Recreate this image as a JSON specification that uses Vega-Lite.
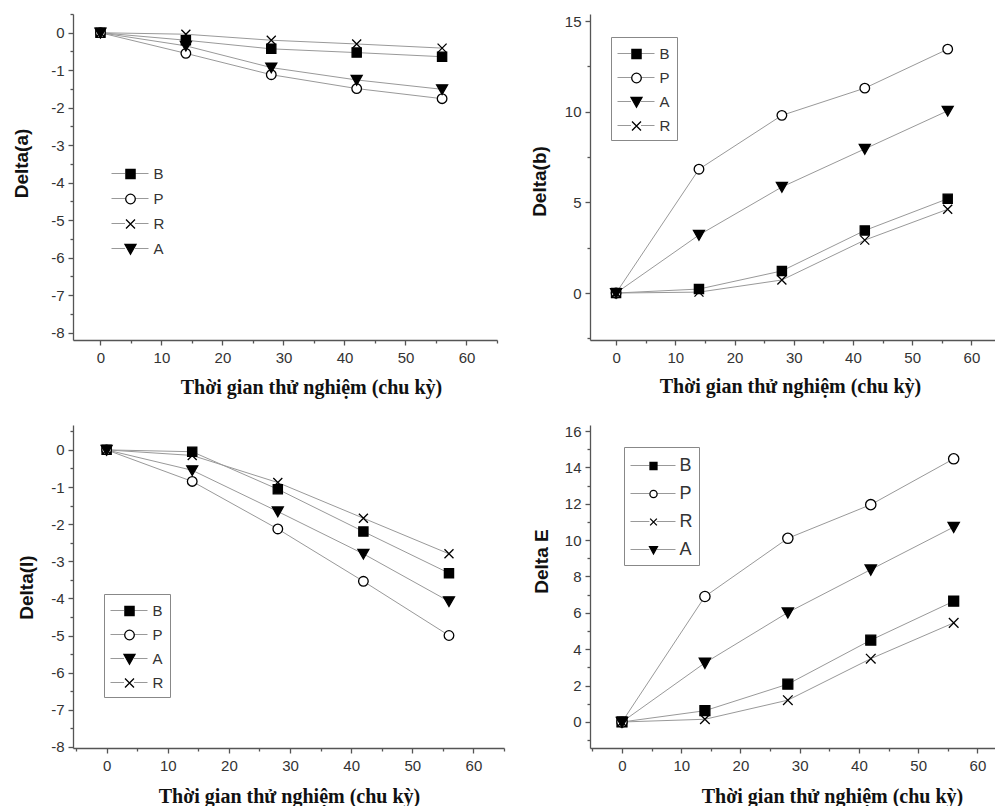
{
  "$schema": "https://vega.github.io/schema/vega-lite/v6.json",
  "background": "white",
  "padding": {"left": 12, "top": 13, "right": 0, "bottom": 0},
  "config": {
    "view": {"stroke": null},
    "axis": {"domainColor": "#555", "domainWidth": 1.3, "tickColor": "#555", "tickWidth": 1.3, "tickSize": 5, "labelColor": "#333", "labelFont": "Liberation Sans", "labelFontSize": 15, "labelPadding": 4, "grid": false, "titleFont": "Liberation Sans", "titleFontWeight": "bold", "titleColor": "#111", "titleBaseline": "alphabetic"},
    "axisX": {"titleFont": "Liberation Serif", "titleFontSize": 20, "labelPadding": 5},
    "axisY": {"titleFontSize": 19},
    "legend": {"labelFont": "Liberation Sans", "labelFontSize": 15, "labelColor": "#333", "title": null, "orient": "none"}
  },
  "datasets": {
    "a": [
      {"t": 0, "s": "B", "k": "B", "v": 0}, {"t": 14, "s": "B", "k": "B", "v": -0.2}, {"t": 28, "s": "B", "k": "B", "v": -0.43}, {"t": 42, "s": "B", "k": "B", "v": -0.53}, {"t": 56, "s": "B", "k": "B", "v": -0.64},
      {"t": 0, "s": "P", "k": "P", "v": 0}, {"t": 14, "s": "P", "k": "P", "v": -0.55}, {"t": 28, "s": "P", "k": "P", "v": -1.12}, {"t": 42, "s": "P", "k": "P", "v": -1.49}, {"t": 56, "s": "P", "k": "P", "v": -1.76},
      {"t": 0, "s": "R", "k": "R", "v": 0}, {"t": 14, "s": "R", "k": "R", "v": -0.04}, {"t": 28, "s": "R", "k": "R", "v": -0.2}, {"t": 42, "s": "R", "k": "R", "v": -0.3}, {"t": 56, "s": "R", "k": "R", "v": -0.41},
      {"t": 0, "s": "A", "k": "A", "v": 0}, {"t": 14, "s": "A", "k": "A", "v": -0.35}, {"t": 28, "s": "A", "k": "A", "v": -0.93}, {"t": 42, "s": "A", "k": "A", "v": -1.26}, {"t": 56, "s": "A", "k": "A", "v": -1.51}
    ],
    "b": [
      {"t": 0, "s": "B", "k": "B", "v": 0}, {"t": 14, "s": "B", "k": "B", "v": 0.22}, {"t": 28, "s": "B", "k": "B", "v": 1.22}, {"t": 42, "s": "B", "k": "B", "v": 3.45}, {"t": 56, "s": "B", "k": "B", "v": 5.2},
      {"t": 0, "s": "P", "k": "P", "v": 0}, {"t": 14, "s": "P", "k": "P", "v": 6.83}, {"t": 28, "s": "P", "k": "P", "v": 9.8}, {"t": 42, "s": "P", "k": "P", "v": 11.3}, {"t": 56, "s": "P", "k": "P", "v": 13.45},
      {"t": 0, "s": "A", "k": "A", "v": 0}, {"t": 14, "s": "A", "k": "A", "v": 3.2}, {"t": 28, "s": "A", "k": "A", "v": 5.85}, {"t": 42, "s": "A", "k": "A", "v": 7.95}, {"t": 56, "s": "A", "k": "A", "v": 10.05},
      {"t": 0, "s": "R", "k": "R", "v": 0}, {"t": 14, "s": "R", "k": "R", "v": 0.05}, {"t": 28, "s": "R", "k": "R", "v": 0.72}, {"t": 42, "s": "R", "k": "R", "v": 2.92}, {"t": 56, "s": "R", "k": "R", "v": 4.62}
    ],
    "l": [
      {"t": 0, "s": "B", "k": "B", "v": 0}, {"t": 14, "s": "B", "k": "B", "v": -0.05}, {"t": 28, "s": "B", "k": "B", "v": -1.06}, {"t": 42, "s": "B", "k": "B", "v": -2.2}, {"t": 56, "s": "B", "k": "B", "v": -3.32},
      {"t": 0, "s": "P", "k": "P", "v": 0}, {"t": 14, "s": "P", "k": "P", "v": -0.85}, {"t": 28, "s": "P", "k": "P", "v": -2.13}, {"t": 42, "s": "P", "k": "P", "v": -3.54}, {"t": 56, "s": "P", "k": "P", "v": -5.0},
      {"t": 0, "s": "A", "k": "A", "v": 0}, {"t": 14, "s": "A", "k": "A", "v": -0.55}, {"t": 28, "s": "A", "k": "A", "v": -1.66}, {"t": 42, "s": "A", "k": "A", "v": -2.8}, {"t": 56, "s": "A", "k": "A", "v": -4.08},
      {"t": 0, "s": "R", "k": "R", "v": 0}, {"t": 14, "s": "R", "k": "R", "v": -0.15}, {"t": 28, "s": "R", "k": "R", "v": -0.88}, {"t": 42, "s": "R", "k": "R", "v": -1.84}, {"t": 56, "s": "R", "k": "R", "v": -2.8}
    ],
    "E": [
      {"t": 0, "s": "B", "k": "B", "v": 0}, {"t": 14, "s": "B", "k": "B", "v": 0.62}, {"t": 28, "s": "B", "k": "B", "v": 2.08}, {"t": 42, "s": "B", "k": "B", "v": 4.5}, {"t": 56, "s": "B", "k": "B", "v": 6.64},
      {"t": 0, "s": "P", "k": "P", "v": 0}, {"t": 14, "s": "P", "k": "P", "v": 6.9}, {"t": 28, "s": "P", "k": "P", "v": 10.1}, {"t": 42, "s": "P", "k": "P", "v": 11.95}, {"t": 56, "s": "P", "k": "P", "v": 14.47},
      {"t": 0, "s": "R", "k": "R", "v": 0}, {"t": 14, "s": "R", "k": "R", "v": 0.15}, {"t": 28, "s": "R", "k": "R", "v": 1.2}, {"t": 42, "s": "R", "k": "R", "v": 3.48}, {"t": 56, "s": "R", "k": "R", "v": 5.45},
      {"t": 0, "s": "A", "k": "A", "v": 0}, {"t": 14, "s": "A", "k": "A", "v": 3.25}, {"t": 28, "s": "A", "k": "A", "v": 6.02}, {"t": 42, "s": "A", "k": "A", "v": 8.38}, {"t": 56, "s": "A", "k": "A", "v": 10.72}
    ]
  },
  "columns": 2,
  "bounds": "flush",
  "spacing": {"row": 85, "column": 86},
  "resolve": {"scale": {"stroke": "independent", "shape": "independent", "fill": "independent"}, "legend": {"stroke": "independent", "shape": "independent", "fill": "independent"}},
  "concat": [
    {
      "width": 424, "height": 326,
      "data": {"name": "a"},
      "resolve": {"axis": {"x": "independent", "y": "independent"}},
      "layer": [
        {
          "mark": {"type": "line", "strokeWidth": 1},
          "encoding": {
            "x": {"field": "t", "type": "quantitative", "scale": {"domain": [-4.5, 65], "nice": false, "zero": false}, "axis": {"orient": "bottom", "values": [5, 15, 25, 35, 45, 55, 65], "tickSize": 3, "labels": false, "domain": false, "title": null}},
            "y": {"field": "v", "type": "quantitative", "scale": {"domain": [-8.2, 0.5], "nice": false, "zero": false}, "axis": {"orient": "left", "values": [-7.5, -6.5, -5.5, -4.5, -3.5, -2.5, -1.5, -0.5, 0.5], "tickSize": 3, "labels": false, "domain": false, "title": null}},
            "stroke": {"field": "k", "type": "nominal", "sort": ["B", "P", "R", "A"], "scale": {"range": ["#999", "#999", "#999", "#999"]}, "legend": {"legendX": 38, "legendY": 149, "padding": 0, "symbolType": "M-1.85,0H-0.5M0.5,0H1.85", "symbolSize": 400, "symbolOffset": 8.5, "symbolStrokeWidth": 1, "labelOpacity": 0, "labelOffset": 12, "rowPadding": 6, "zindex": 1}}
          }
        },
        {
          "mark": {"type": "point", "filled": false, "stroke": "black", "strokeWidth": 1.3, "opacity": 1, "size": 400},
          "encoding": {
            "x": {"field": "t", "type": "quantitative", "axis": {"orient": "bottom", "values": [0, 10, 20, 30, 40, 50, 60], "title": "Thời gian thử nghiệm (chu kỳ)", "titleX": 238, "titleY": 53}},
            "y": {"field": "v", "type": "quantitative", "axis": {"orient": "left", "values": [-8, -7, -6, -5, -4, -3, -2, -1, 0], "labelExpr": "datum.value + ''", "title": "Delta(a)", "titleX": -46, "titleY": 149}},
            "shape": {"field": "s", "type": "nominal", "scale": {"domain": ["B", "P", "R", "A"], "range": ["M-0.46,-0.46H0.46V0.46H-0.46Z", "M0.48,0A0.48,0.48,0,1,1,-0.48,0A0.48,0.48,0,1,1,0.48,0Z", "M-0.45,-0.45L0.45,0.45M0.45,-0.45L-0.45,0.45", "M-0.55,-0.45H0.55L0,0.52Z"]}, "legend": {"legendX": 38, "legendY": 149, "padding": 0, "symbolSize": 400, "symbolOffset": 8.5, "symbolStrokeWidth": 1.3, "labelOffset": 12, "rowPadding": 6, "zindex": 2}},
            "fill": {"field": "s", "type": "nominal", "scale": {"domain": ["B", "P", "R", "A"], "range": ["black", "white", "transparent", "black"]}, "legend": {"legendX": 38, "legendY": 149, "padding": 0, "symbolSize": 400, "symbolOffset": 8.5, "symbolStrokeWidth": 1.3, "labelOffset": 12, "rowPadding": 6, "zindex": 2}}
          }
        }
      ]
    },
    {
      "width": 411, "height": 326,
      "data": {"name": "b"},
      "resolve": {"axis": {"x": "independent", "y": "independent"}},
      "layer": [
        {
          "mark": {"type": "line", "strokeWidth": 1},
          "encoding": {
            "x": {"field": "t", "type": "quantitative", "scale": {"domain": [-4.4, 65], "nice": false, "zero": false}, "axis": {"orient": "bottom", "values": [5, 15, 25, 35, 45, 55, 65], "tickSize": 3, "labels": false, "domain": false, "title": null}},
            "y": {"field": "v", "type": "quantitative", "scale": {"domain": [-2.59, 15.39], "nice": false, "zero": false}, "axis": {"orient": "left", "values": [-2.5, 2.5, 7.5, 12.5], "tickSize": 3, "labels": false, "domain": false, "title": null}},
            "stroke": {"field": "k", "type": "nominal", "sort": ["B", "P", "A", "R"], "scale": {"range": ["#999", "#999", "#999", "#999"]}, "legend": {"legendX": 21, "legendY": 23, "padding": 6, "symbolType": "M-1.85,0H-0.5M0.5,0H1.85", "symbolSize": 400, "symbolOffset": 8.5, "symbolStrokeWidth": 1, "labelOpacity": 0, "labelOffset": 12, "rowPadding": 5, "zindex": 1}}
          }
        },
        {
          "mark": {"type": "point", "filled": false, "stroke": "black", "strokeWidth": 1.3, "opacity": 1, "size": 400},
          "encoding": {
            "x": {"field": "t", "type": "quantitative", "axis": {"orient": "bottom", "values": [0, 10, 20, 30, 40, 50, 60], "title": "Thời gian thử nghiệm (chu kỳ)", "titleX": 200, "titleY": 52}},
            "y": {"field": "v", "type": "quantitative", "axis": {"orient": "left", "values": [0, 5, 10, 15], "labelExpr": "datum.value + ''", "title": "Delta(b)", "titleX": -45, "titleY": 167}},
            "shape": {"field": "s", "type": "nominal", "scale": {"domain": ["B", "P", "A", "R"], "range": ["M-0.46,-0.46H0.46V0.46H-0.46Z", "M0.48,0A0.48,0.48,0,1,1,-0.48,0A0.48,0.48,0,1,1,0.48,0Z", "M-0.55,-0.45H0.55L0,0.52Z", "M-0.45,-0.45L0.45,0.45M0.45,-0.45L-0.45,0.45"]}, "legend": {"legendX": 21, "legendY": 23, "padding": 6, "strokeColor": "#888", "symbolSize": 400, "symbolOffset": 8.5, "symbolStrokeWidth": 1.3, "labelOffset": 12, "rowPadding": 5, "zindex": 2}},
            "fill": {"field": "s", "type": "nominal", "scale": {"domain": ["B", "P", "A", "R"], "range": ["black", "white", "black", "transparent"]}, "legend": {"legendX": 21, "legendY": 23, "padding": 6, "strokeColor": "#888", "symbolSize": 400, "symbolOffset": 8.5, "symbolStrokeWidth": 1.3, "labelOffset": 12, "rowPadding": 5, "zindex": 2}}
          }
        }
      ]
    },
    {
      "width": 431, "height": 323,
      "data": {"name": "l"},
      "resolve": {"axis": {"x": "independent", "y": "independent"}},
      "layer": [
        {
          "mark": {"type": "line", "strokeWidth": 1},
          "encoding": {
            "x": {"field": "t", "type": "quantitative", "scale": {"domain": [-5.5, 65], "nice": false, "zero": false}, "axis": {"orient": "bottom", "values": [-5, 5, 15, 25, 35, 45, 55, 65], "tickSize": 3, "labels": false, "domain": false, "title": null}},
            "y": {"field": "v", "type": "quantitative", "scale": {"domain": [-8.03, 0.67], "nice": false, "zero": false}, "axis": {"orient": "left", "values": [-7.5, -6.5, -5.5, -4.5, -3.5, -2.5, -1.5, -0.5, 0.5], "tickSize": 3, "labels": false, "domain": false, "title": null}},
            "stroke": {"field": "k", "type": "nominal", "sort": ["B", "P", "A", "R"], "scale": {"range": ["#999", "#999", "#999", "#999"]}, "legend": {"legendX": 31, "legendY": 169, "padding": 6, "symbolType": "M-1.85,0H-0.5M0.5,0H1.85", "symbolSize": 400, "symbolOffset": 8.5, "symbolStrokeWidth": 1, "labelOpacity": 0, "labelOffset": 12, "rowPadding": 5, "zindex": 1}}
          }
        },
        {
          "mark": {"type": "point", "filled": false, "stroke": "black", "strokeWidth": 1.3, "opacity": 1, "size": 400},
          "encoding": {
            "x": {"field": "t", "type": "quantitative", "axis": {"orient": "bottom", "values": [0, 10, 20, 30, 40, 50, 60], "title": "Thời gian thử nghiệm (chu kỳ)", "titleX": 216, "titleY": 54}},
            "y": {"field": "v", "type": "quantitative", "axis": {"orient": "left", "values": [-8, -7, -6, -5, -4, -3, -2, -1, 0], "labelExpr": "datum.value + ''", "title": "Delta(l)", "titleX": -41, "titleY": 162}},
            "shape": {"field": "s", "type": "nominal", "scale": {"domain": ["B", "P", "A", "R"], "range": ["M-0.46,-0.46H0.46V0.46H-0.46Z", "M0.48,0A0.48,0.48,0,1,1,-0.48,0A0.48,0.48,0,1,1,0.48,0Z", "M-0.55,-0.45H0.55L0,0.52Z", "M-0.45,-0.45L0.45,0.45M0.45,-0.45L-0.45,0.45"]}, "legend": {"legendX": 31, "legendY": 169, "padding": 6, "strokeColor": "#888", "symbolSize": 400, "symbolOffset": 8.5, "symbolStrokeWidth": 1.3, "labelOffset": 12, "rowPadding": 5, "zindex": 2}},
            "fill": {"field": "s", "type": "nominal", "scale": {"domain": ["B", "P", "A", "R"], "range": ["black", "white", "black", "transparent"]}, "legend": {"legendX": 31, "legendY": 169, "padding": 6, "strokeColor": "#888", "symbolSize": 400, "symbolOffset": 8.5, "symbolStrokeWidth": 1.3, "labelOffset": 12, "rowPadding": 5, "zindex": 2}}
          }
        }
      ]
    },
    {
      "width": 417, "height": 323,
      "data": {"name": "E"},
      "resolve": {"axis": {"x": "independent", "y": "independent"}},
      "layer": [
        {
          "mark": {"type": "line", "strokeWidth": 1},
          "encoding": {
            "x": {"field": "t", "type": "quantitative", "scale": {"domain": [-5.4, 65], "nice": false, "zero": false}, "axis": {"orient": "bottom", "values": [-5, 5, 15, 25, 35, 45, 55, 65], "tickSize": 3, "labels": false, "domain": false, "title": null}},
            "y": {"field": "v", "type": "quantitative", "scale": {"domain": [-1.43, 16.33], "nice": false, "zero": false}, "axis": {"orient": "left", "values": [-1, 1, 3, 5, 7, 9, 11, 13, 15], "tickSize": 3, "labels": false, "domain": false, "title": null}},
            "stroke": {"field": "k", "type": "nominal", "sort": ["B", "P", "R", "A"], "scale": {"range": ["#999", "#999", "#999", "#999"]}, "legend": {"legendX": 34, "legendY": 22, "padding": 6, "symbolType": "M-1.875,0H-0.3M0.3,0H1.875", "symbolSize": 576, "symbolOffset": 10.5, "symbolStrokeWidth": 1, "labelOpacity": 0, "labelFontSize": 18, "labelOffset": 13, "rowPadding": 6, "zindex": 1}}
          }
        },
        {
          "mark": {"type": "point", "filled": false, "stroke": "black", "strokeWidth": 1.3, "opacity": 1, "size": 1176},
          "encoding": {
            "x": {"field": "t", "type": "quantitative", "axis": {"orient": "bottom", "values": [0, 10, 20, 30, 40, 50, 60], "title": "Thời gian thử nghiệm (chu kỳ)", "titleX": 242, "titleY": 54}},
            "y": {"field": "v", "type": "quantitative", "axis": {"orient": "left", "values": [0, 2, 4, 6, 8, 10, 12, 14, 16], "labelExpr": "datum.value + ''", "title": "Delta E", "titleX": -43, "titleY": 136}},
            "shape": {"field": "s", "type": "nominal", "scale": {"domain": ["B", "P", "R", "A"], "range": ["M-0.29,-0.29H0.29V0.29H-0.29Z", "M0.3,0A0.3,0.3,0,1,1,-0.3,0A0.3,0.3,0,1,1,0.3,0Z", "M-0.28,-0.28L0.28,0.28M0.28,-0.28L-0.28,0.28", "M-0.33,-0.27H0.33L0,0.32Z"]}, "legend": {"legendX": 34, "legendY": 22, "padding": 6, "strokeColor": "#888", "symbolSize": 576, "symbolOffset": 10.5, "symbolStrokeWidth": 1.3, "labelFontSize": 18, "labelOffset": 13, "rowPadding": 6, "zindex": 2}},
            "fill": {"field": "s", "type": "nominal", "scale": {"domain": ["B", "P", "R", "A"], "range": ["black", "white", "transparent", "black"]}, "legend": {"legendX": 34, "legendY": 22, "padding": 6, "strokeColor": "#888", "symbolSize": 576, "symbolOffset": 10.5, "symbolStrokeWidth": 1.3, "labelFontSize": 18, "labelOffset": 13, "rowPadding": 6, "zindex": 2}}
          }
        }
      ]
    }
  ]
}
